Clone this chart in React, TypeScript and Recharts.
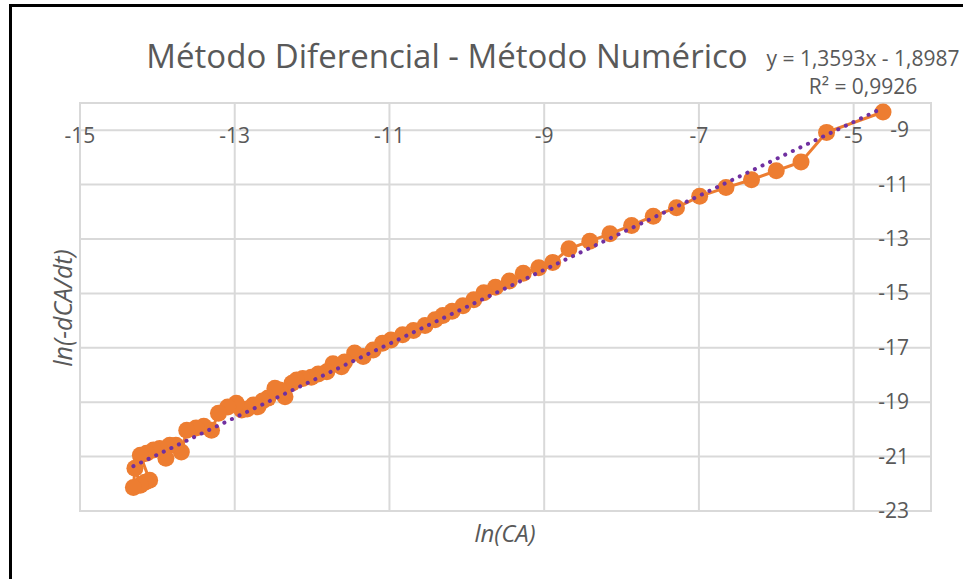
import React from 'react';
import { ScatterChart, Scatter, XAxis, YAxis, CartesianGrid, ReferenceArea } from 'recharts';

// ln(CA) values
const lnCA = [
  -4.62, -5.35, -5.68, -6.0, -6.32, -6.65, -6.99, -7.29, -7.59, -7.87,
  -8.15, -8.41, -8.68, -8.89, -9.07, -9.27, -9.45, -9.63, -9.78, -9.91,
  -10.05, -10.19, -10.31, -10.41, -10.54, -10.69, -10.83, -10.98, -11.09, -11.21,
  -11.34, -11.45, -11.58, -11.62, -11.73, -11.81, -11.92, -12.01, -12.12, -12.2,
  -12.26, -12.35, -12.42, -12.48, -12.57, -12.64, -12.7, -12.76, -12.84, -12.91,
  -12.98, -13.09, -13.21, -13.3, -13.4, -13.5, -13.62, -13.69, -13.76, -13.84,
  -13.89, -13.97, -14.05, -14.14, -14.22, -14.1, -14.16, -14.22, -14.29, -14.31,
];

// ln(-dCA/dt) values
const lnRate = [
  -8.33, -9.08, -10.17, -10.49, -10.82, -11.11, -11.43, -11.85, -12.16, -12.5,
  -12.81, -13.08, -13.36, -13.86, -14.06, -14.26, -14.54, -14.77, -14.98, -15.23,
  -15.45, -15.66, -15.81, -15.97, -16.18, -16.36, -16.52, -16.71, -16.83, -17.08,
  -17.32, -17.19, -17.52, -17.7, -17.59, -17.88, -17.96, -18.08, -18.13, -18.18,
  -18.3, -18.8, -18.55, -18.49, -18.85, -18.96, -19.17, -19.1, -19.25, -19.29,
  -19.04, -19.18, -19.41, -20.03, -19.88, -19.95, -20.03, -20.83, -20.58, -20.58,
  -21.06, -20.7, -20.76, -20.88, -20.95, -21.87, -21.94, -22.05, -21.43, -22.14,
];

const xTicks = [-15, -13, -11, -9, -7, -5];
const yTicks = [-23, -21, -19, -17, -15, -13, -11, -9];

// linear trendline shown on the chart
const slope = 1.3593;
const intercept = -1.8987;
const equationText = 'y = 1,3593x - 1,8987';
const r2Text = 'R² = 0,9926';

const points = lnCA.map((x, i) => ({ x, y: lnRate[i] }));
const xMin = Math.min(...lnCA);
const xMax = Math.max(...lnCA);
const trend = [
  { x: xMin, y: slope * xMin + intercept },
  { x: xMax, y: slope * xMax + intercept },
];

const font = '"Open Sans", sans-serif';
const grey = '#595959';

const XTick = ({ x, payload }) => (
  <text x={x} y={143} textAnchor="middle" fill={grey} fontSize={21} fontFamily={font}>
    {payload.value}
  </text>
);

const YTick = ({ y, payload }) => (
  <text x={909} y={y + 7} textAnchor="end" fill={grey} fontSize={21} fontFamily={font}>
    {payload.value}
  </text>
);

const Dot = ({ cx, cy }) => <circle cx={cx} cy={cy} r={8.5} fill="#ED7D31" />;

const App = () => {
  return (
    <div style={{ position: 'absolute', left: 0, top: 0, width: 963, height: 579, background: '#fff', fontFamily: font }}>
      <div style={{ position: 'absolute', left: 9, top: 4, width: 960, height: 580, borderTop: '3px solid #000', borderLeft: '3px solid #000' }} />
      <ScatterChart width={963} height={579} margin={{ top: 73, right: 30, bottom: 68, left: 80 }}>
        <CartesianGrid stroke="#d9d9d9" strokeWidth={2} />
        <ReferenceArea x1={-15} x2={-4} y1={-23} y2={-8} fill="none" stroke="#d9d9d9" strokeWidth={2} fillOpacity={0} />
        <XAxis
          type="number"
          dataKey="x"
          orientation="top"
          domain={[-15, -4]}
          ticks={xTicks}
          height={30}
          axisLine={false}
          tickLine={false}
          tick={<XTick />}
          allowDataOverflow
        />
        <YAxis
          type="number"
          dataKey="y"
          orientation="right"
          domain={[-23, -8]}
          ticks={yTicks}
          width={2}
          axisLine={false}
          tickLine={false}
          tick={<YTick />}
          allowDataOverflow
        />
        <Scatter
          data={points}
          line={{ stroke: '#ED7D31', strokeWidth: 3 }}
          shape={<Dot />}
          isAnimationActive={false}
        />
        <Scatter
          data={trend}
          line={{ stroke: '#7030A0', strokeWidth: 4, strokeDasharray: '0.1 8.3', strokeLinecap: 'round' }}
          shape={() => null}
          isAnimationActive={false}
        />
      </ScatterChart>
      <div style={{ position: 'absolute', left: 447, top: 72, transform: 'translate(-50%, -100%)', fontSize: 33, color: grey, whiteSpace: 'nowrap', lineHeight: 1 }}>
        Método Diferencial - Método Numérico
      </div>
      <div style={{ position: 'absolute', left: 863, top: 58, transform: 'translate(-50%, -50%)', fontSize: 21, color: grey, whiteSpace: 'nowrap', lineHeight: 1 }}>
        {equationText}
      </div>
      <div style={{ position: 'absolute', left: 863, top: 86, transform: 'translate(-50%, -50%)', fontSize: 21, color: grey, whiteSpace: 'nowrap', lineHeight: 1 }}>
        {r2Text}
      </div>
      <div style={{ position: 'absolute', left: 505, top: 533, transform: 'translate(-50%, -50%)', fontSize: 24, fontStyle: 'italic', color: grey, whiteSpace: 'nowrap', lineHeight: 1 }}>
        ln(CA)
      </div>
      <div style={{ position: 'absolute', left: 62, top: 308, transform: 'translate(-50%, -50%) rotate(-90deg)', fontSize: 25, fontStyle: 'italic', color: grey, whiteSpace: 'nowrap', lineHeight: 1 }}>
        ln(-dCA/dt)
      </div>
    </div>
  );
};

export default App;
